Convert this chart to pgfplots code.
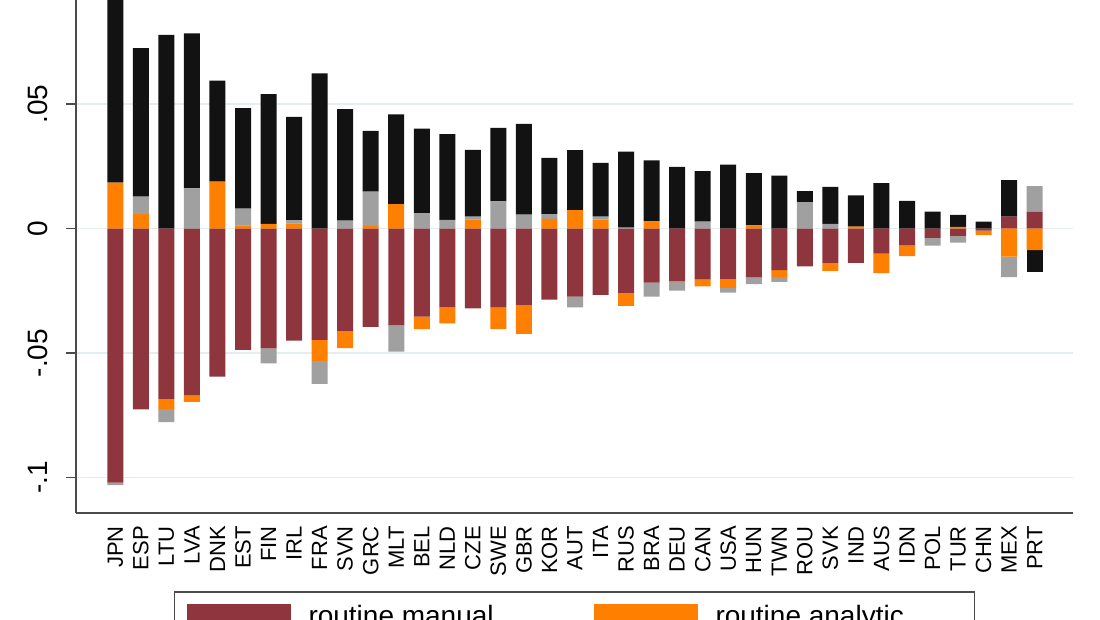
\documentclass[border=0pt]{standalone}
\usepackage{pgfplots}
\pgfplotsset{compat=1.18}
\usepackage{pgfplotstable}
\usepackage{fontspec}
\setmainfont{Liberation Sans}
\definecolor{cman}{RGB}{143,53,61}
\definecolor{cana}{RGB}{255,128,0}
\definecolor{cgry}{RGB}{160,160,160}
\definecolor{cblk}{RGB}{18,18,18}
\definecolor{gridc}{RGB}{228,237,240}
\definecolor{axc}{RGB}{75,75,75}

% positive parts: routine manual, routine analytic, grey, black
\pgfplotstableread{
idx rm ra nm na
0 0 0.0185 0 0.085
1 0 0.0058 0.0071 0.0596
2 0 0 0 0.0778
3 0 0 0.0162 0.0622
4 0 0.0189 0 0.0406
5 0 0.0013 0.0068 0.0403
6 0 0.0019 0 0.0521
7 0 0.0021 0.0013 0.0415
8 0 0 0 0.0624
9 0 0 0.0032 0.0448
10 0 0.0011 0.0138 0.0244
11 0 0.0099 0 0.0360
12 0 0 0.0062 0.0340
13 0 0 0.0035 0.0345
14 0 0.0037 0.0011 0.0269
15 0 0 0.0110 0.0295
16 0 0 0.0056 0.0365
17 0 0.0039 0.0019 0.0226
18 0 0.0075 0 0.0240
19 0 0.0036 0.0012 0.0216
20 0 0 0.0004 0.0305
21 0 0.0029 0 0.0245
22 0 0 0 0.0248
23 0 0 0.0028 0.0203
24 0 0 0 0.0257
25 0 0.0013 0 0.0210
26 0 0 0 0.0213
27 0 0 0.0107 0.0044
28 0 0 0.0019 0.0149
29 0 0.0008 0 0.0126
30 0 0 0 0.0183
31 0 0 0 0.0112
32 0 0 0 0.0068
33 0 0.0007 0 0.0048
34 0 0 0 0.0028
35 0.0048 0 0 0.0147
36 0.0068 0 0.0103 0
}\pos

% negative parts
\pgfplotstableread{
idx rm ra nm na
0 -0.1020 0 -0.0010 0
1 -0.0726 0 0 0
2 -0.0684 -0.0041 -0.0052 0
3 -0.0669 -0.0027 0 0
4 -0.0594 0 0 0
5 -0.0487 0 0 0
6 -0.0481 0 -0.0060 0
7 -0.0450 0 0 0
8 -0.0447 -0.0084 -0.0092 0
9 -0.0412 -0.0068 0 0
10 -0.0394 0 0 0
11 -0.0388 0 -0.0106 0
12 -0.0353 -0.0050 0 0
13 -0.0316 -0.0064 0 0
14 -0.0320 0 0 0
15 -0.0315 -0.0088 0 0
16 -0.0308 -0.0115 0 0
17 -0.0285 0 0 0
18 -0.0273 0 -0.0043 0
19 -0.0266 0 0 0
20 -0.0260 -0.0050 0 0
21 -0.0217 0 -0.0056 0
22 -0.0210 -0.0005 -0.0034 0
23 -0.0203 -0.0029 0 0
24 -0.0202 -0.0036 -0.0019 0
25 -0.0195 0 -0.0028 0
26 -0.0166 -0.0029 -0.0019 0
27 -0.0151 0 0 0
28 -0.0137 -0.0032 0 0
29 -0.0137 0 0 0
30 -0.0100 -0.0079 0 0
31 -0.0066 -0.0044 0 0
32 -0.0037 0 -0.0031 0
33 -0.0029 0 -0.0027 0
34 -0.0008 -0.0017 0 0
35 0 -0.0112 -0.0083 0
36 0 -0.0086 0 -0.0087
}\neg

\pgfplotsset{
  common/.style={
    width=997pt, height=608pt, scale only axis,
    xmin=-1.54, xmax=37.5, ymin=-0.1142, ymax=0.1300,
    ybar stacked, bar width=16pt,
    at={(76pt,-513pt)}, anchor=south west,
  },
  leg/.style={legend image code/.code={\fill[##1] (0pt,-12pt) rectangle (104pt,12pt);}},
}

\begin{document}
\begin{tikzpicture}
\useasboundingbox (0,0) rectangle (1100pt,-619pt);
\clip (0,0) rectangle (1100pt,-619pt);
\begin{axis}[common,
  axis x line*=bottom, axis y line*=left,
  axis line style={axc, line width=2pt},
  xtick={0,...,36},
  xticklabels={JPN,ESP,LTU,LVA,DNK,EST,FIN,IRL,FRA,SVN,GRC,MLT,BEL,NLD,CZE,SWE,GBR,KOR,AUT,ITA,RUS,BRA,DEU,CAN,USA,HUN,TWN,ROU,SVK,IND,AUS,IDN,POL,TUR,CHN,MEX,PRT},
  xtick style={draw=none},
  xticklabel style={rotate=90, anchor=east, inner sep=0pt, font=\fontsize{22}{26}\selectfont},
  xticklabel shift=3pt,
  ytick={-0.1,-0.05,0,0.05,0.1},
  yticklabels={-.1,-.05,0,.05,.1},
  ytick pos=left,
  yticklabel style={rotate=90, anchor=south, inner sep=0pt, font=\fontsize{28}{33}\selectfont},
  yticklabel shift=18pt,
  tick align=outside, major tick length=10pt,
  ytick style={draw=axc, line width=1.5pt},
  ymajorgrids, major grid style={draw=gridc, line width=1.5pt},
  clip=false,
  legend columns=2,
  legend cell align=left,
  legend style={at={(0.5,0)}, anchor=north, yshift=-78pt,
    draw=axc, line width=1.5pt, fill=white,
    inner xsep=12pt, inner ysep=12pt,
    font=\fontsize{28}{34}\selectfont,
    nodes={inner sep=0pt, text depth=0.15em},
    /tikz/every odd column/.append style={column sep=18pt},
    /tikz/every even column/.append style={column sep=38pt}},
]
\addplot[fill=cman, draw=none, leg] table[x=idx,y=rm]{\pos};
\addlegendentry{\makebox[247pt][l]{routine manual}}
\addplot[fill=cana, draw=none, leg] table[x=idx,y=ra]{\pos};
\addlegendentry{\makebox[247pt][l]{routine analytic}}
\addplot[fill=cgry, draw=none, leg] table[x=idx,y=nm]{\pos};
\addlegendentry{\makebox[247pt][l]{non-routine manual}}
\addplot[fill=cblk, draw=none, leg] table[x=idx,y=na]{\pos};
\addlegendentry{\makebox[247pt][l]{non-routine analytic}}
\foreach \v in {-0.1,-0.05,0,0.05,0.1}{
  \edef\tmp{\noexpand\draw[axc, line width=1.5pt] (axis cs:-1.54,\v) -- ++(-10pt,0pt);}\tmp
}
\end{axis}
\begin{axis}[common, hide axis]
\addplot[fill=cman, draw=none] table[x=idx,y=rm]{\neg};
\addplot[fill=cana, draw=none] table[x=idx,y=ra]{\neg};
\addplot[fill=cgry, draw=none] table[x=idx,y=nm]{\neg};
\addplot[fill=cblk, draw=none] table[x=idx,y=na]{\neg};
\end{axis}
\end{tikzpicture}
\end{document}
